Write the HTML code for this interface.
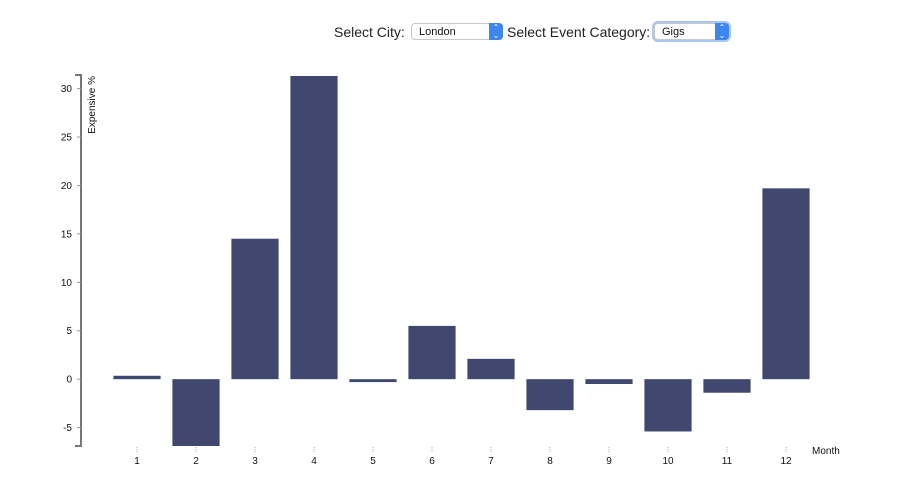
<!DOCTYPE html>
<html><head><meta charset="utf-8"><style>
body{margin:0;width:902px;height:490px;background:#fff;font-family:"Liberation Sans",sans-serif;position:relative;overflow:hidden}
.lbl{position:absolute;top:23px;font-size:14px;color:#222;line-height:18px}
.sel{position:absolute;top:23px;height:17px;border:1px solid #c8c8c8;border-radius:4px;background:#fff;font-size:11px;line-height:17px;box-sizing:border-box;padding-left:7px;color:#111}
.sel .arr{position:absolute;right:-1px;top:-1px;width:14px;height:17px;background:#3b86f0;border-radius:0 4px 4px 0;color:#fff;font-size:8px;line-height:8px;text-align:center;padding-top:1px;box-sizing:border-box}
svg{position:absolute;left:0;top:0}
</style></head><body>
<div class="lbl" style="left:334px">Select City:</div>
<div class="sel" style="left:411px;width:92px">London<div class="arr">⌃<br>⌄</div></div>
<div class="lbl" style="left:507px">Select Event Category:</div>
<div class="sel" style="left:654px;width:75px;box-shadow:0 0 0 2px #a9c6f0">Gigs<div class="arr">⌃<br>⌄</div></div>
<svg id="c" width="902" height="490"></svg>
<script>
const months=[1,2,3,4,5,6,7,8,9,10,11,12];
const values=[0.35,-6.9,14.5,31.3,-0.3,5.5,2.1,-3.2,-0.5,-5.4,-1.4,19.7];
const yTicks=[-5,0,5,10,15,20,25,30];
const NS="http://www.w3.org/2000/svg";
const svg=document.getElementById('c');
const yMin=Math.min(...values),yMax=Math.max(...values);
const y0px=446,y1px=76;
function y(v){return y0px+(v-yMin)/(yMax-yMin)*(y1px-y0px);}
const xL=107.5,xR=815.5,step=(xR-xL)/months.length,bw=step*0.8;
function x(i){return xL+step*i+step*0.1;}
function el(t,a){const e=document.createElementNS(NS,t);for(const k in a)e.setAttribute(k,a[k]);svg.appendChild(e);return e;}
values.forEach((v,i)=>{
 const r=el('rect',{x:x(i),y:Math.min(y(v),y(0)),width:bw,height:Math.abs(y(v)-y(0)),fill:'#414870'});
 
 
 const t=el('line',{x1:x(i)+bw/2,x2:x(i)+bw/2,y1:447,y2:453,stroke:'#aaa','stroke-dasharray':'1,1'});
 const l=el('text',{x:x(i)+bw/2,y:464,'font-size':10,'text-anchor':'middle',fill:'#111'});
 l.textContent=months[i];
 
 
});
const ax=el('path',{d:`M75,${y1px-1}H81V${y0px}H75`,fill:'none',stroke:'#777','stroke-width':2});


yTicks.forEach(v=>{
 el('line',{x1:77,x2:81,y1:y(v),y2:y(v),stroke:'#999'});
 const t=el('text',{x:72,y:y(v)+3.5,'font-size':10,'text-anchor':'end',fill:'#111'});
 t.textContent=v;
 
 
});
const yt=el('text',{transform:'translate(95,76) rotate(-90)','font-size':10,'text-anchor':'end',fill:'#111'});
yt.textContent='Expensive %';


const xt=el('text',{x:812,y:454,'font-size':10,fill:'#111'});
xt.textContent='Month';


</script>
</body></html>
